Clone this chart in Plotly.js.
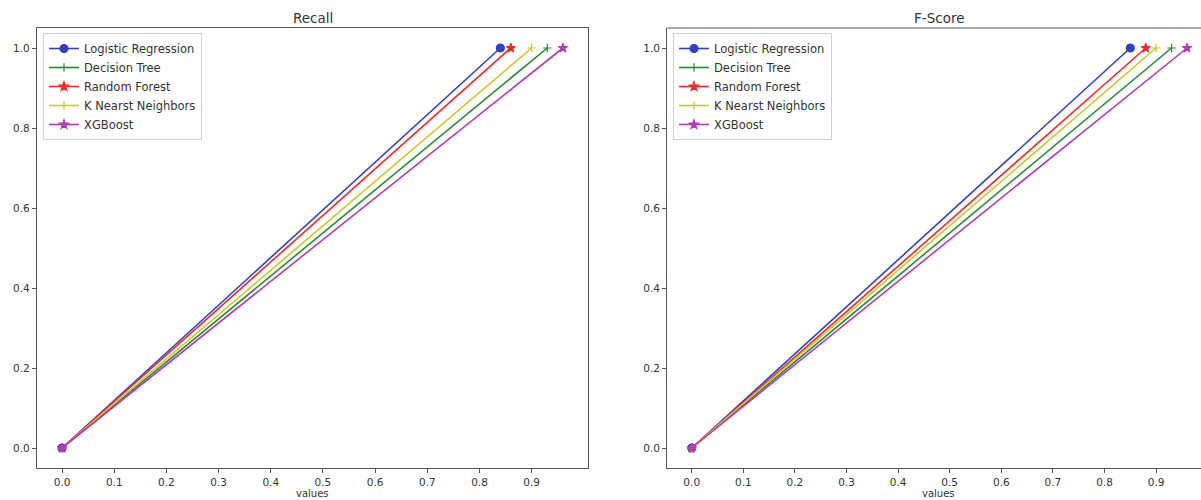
<!DOCTYPE html>
<html>
<head>
<meta charset="utf-8">
<script src="https://cdn.plot.ly/plotly-3.0.1.min.js"></script>
<style>html,body{margin:0;padding:0;background:#fff}#chart{width:1201px;height:500px}</style>
</head>
<body>
<div id="chart"></div>
<script>
const models = ["Logistic Regression", "Decision Tree", "Random Forest", "K Nearst Neighbors", "XGBoost"];
const recall = [0.84, 0.93, 0.86, 0.90, 0.96];
const fscore = [0.85, 0.93, 0.88, 0.90, 0.96];
const colors = ["#3340c8", "#2a8a34", "#f02a2a", "#c8c82c", "#b23cb4"];
const symbols = ["circle", "cross-thin", "star", "cross-thin", "star"];
const msizes = [8, 6, 7, 6, 7];
const ticks = [0.0, 0.1, 0.2, 0.3, 0.4, 0.5, 0.6, 0.7, 0.8, 0.9];
const yticks = [0.0, 0.2, 0.4, 0.6, 0.8, 1.0];

const traces = [];
function addSet(vals, xa, ya, leg) {
  vals.forEach((v, i) => {
    traces.push({
      x: [0, v], y: [0, 1], type: "scatter", mode: "lines+markers",
      name: models[i], xaxis: xa, yaxis: ya, legend: leg,
      line: {color: colors[i], width: 1.6},
      marker: {symbol: symbols[i], size: msizes[i], color: colors[i], line: {color: colors[i], width: 1.2}}
    });
  });
}
addSet(recall, "x", "y", "legend");
addSet(fscore, "x2", "y2", "legend2");

const W = 1201, H = 500;
const txt = "#333";
const font = {family: "DejaVu Sans, sans-serif", size: 11, color: txt};
const axBase = {
  showgrid: false, zeroline: false, showline: true, linecolor: "#555", linewidth: 1.2,
  ticks: "outside", ticklen: 4, tickcolor: "#555", tickfont: {size: 10.5, color: txt}
};
const legBase = {
  bgcolor: "rgba(255,255,255,0.9)", bordercolor: "#d0d0d0", borderwidth: 1,
  font: {size: 11.5, color: txt}, xanchor: "left", yanchor: "top", itemwidth: 30, tracegroupgap: 0
};
const yDom = [(H-468)/H, (H-28)/H];

const layout = {
  width: W, height: H, margin: {l: 0, r: 0, t: 0, b: 0},
  paper_bgcolor: "#fff", plot_bgcolor: "#fff", font: font, showlegend: true,
  xaxis: Object.assign({}, axBase, {domain: [37/W, 588/W], range: [-0.048, 1.008], tickvals: ticks, ticktext: ticks.map(t => t.toFixed(1)), mirror: true, anchor: "y"}),
  yaxis: Object.assign({}, axBase, {domain: yDom, range: [-0.05, 1.05], tickvals: yticks, ticktext: yticks.map(t => t.toFixed(1)), mirror: true, anchor: "x"}),
  xaxis2: Object.assign({}, axBase, {domain: [667.3/W, 1], range: [-0.0473, (W-691.7)/516], tickvals: ticks, ticktext: ticks.map(t => t.toFixed(1)), anchor: "y2"}),
  yaxis2: Object.assign({}, axBase, {domain: yDom, range: [-0.05, 1.05], tickvals: yticks, ticktext: yticks.map(t => t.toFixed(1)), anchor: "x2"}),
  legend: Object.assign({}, legBase, {x: 43/W, y: 1 - 33/H}),
  legend2: Object.assign({}, legBase, {x: 673/W, y: 1 - 33/H}),
  shapes: [
    {type: "line", xref: "paper", yref: "paper", x0: 667.3/W, x1: 1, y0: (H-28)/H, y1: (H-28)/H, line: {color: "#555", width: 1.2}}
  ],
  annotations: [
    {text: "Recall", xref: "paper", yref: "paper", x: 312.5/W, y: 1 - 18/H, showarrow: false, font: {size: 13.5, color: txt}, xanchor: "center", yanchor: "middle"},
    {text: "F-Score", xref: "paper", yref: "paper", x: 939/W, y: 1 - 18/H, showarrow: false, font: {size: 13.5, color: txt}, xanchor: "center", yanchor: "middle"},
    {text: "values", xref: "paper", yref: "paper", x: 312.5/W, y: 0, showarrow: false, font: {size: 10, color: txt}, xanchor: "center", yanchor: "bottom", borderpad: 0, yshift: 0},
    {text: "values", xref: "paper", yref: "paper", x: 939/W, y: 0, showarrow: false, font: {size: 10, color: txt}, xanchor: "center", yanchor: "bottom", borderpad: 0, yshift: 0}
  ]
};
Plotly.newPlot("chart", traces, layout, {displayModeBar: false, staticPlot: true});
</script>
</body>
</html>
